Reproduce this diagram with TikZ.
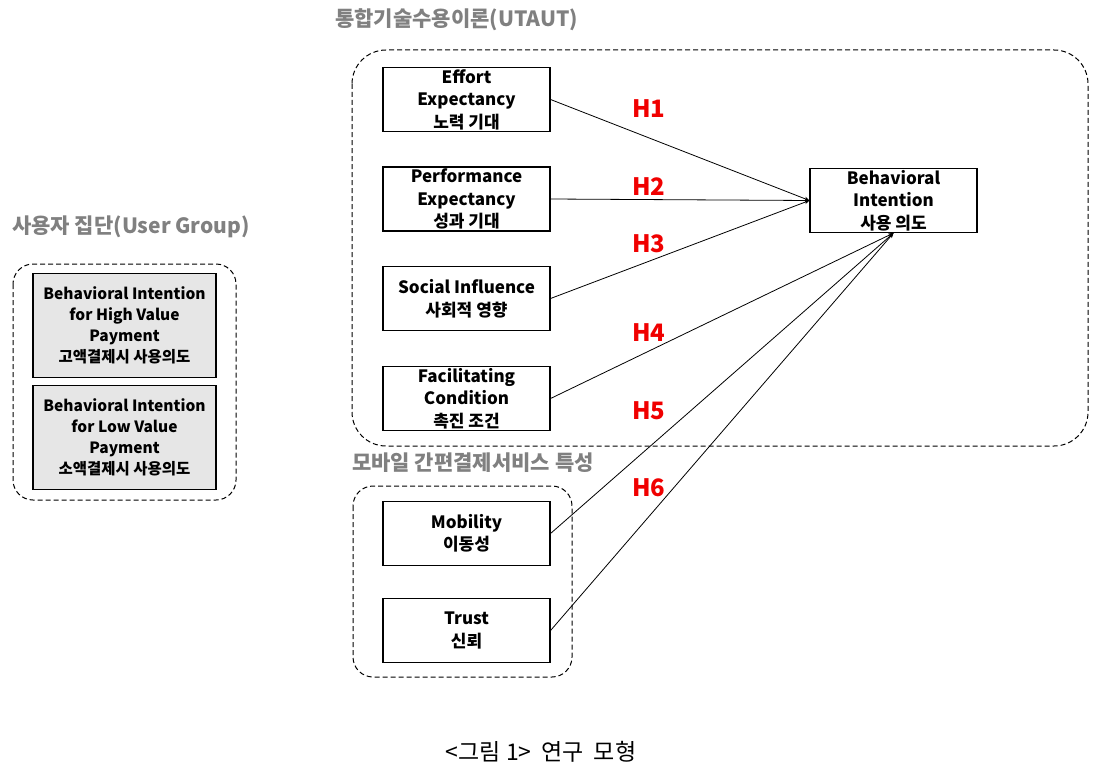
\documentclass[tikz,border=0pt]{standalone}
\usepackage{fontspec}
\setmainfont{Noto Sans CJK KR}
\usetikzlibrary{arrows.meta}
\definecolor{titlegray}{RGB}{128,128,128}
\definecolor{hred}{RGB}{240,0,0}
\definecolor{boxfill}{RGB}{230,230,230}
\begin{document}
\begin{tikzpicture}[x=1pt,y=-1pt,
  box/.style={draw, line width=1.1pt, minimum width=167pt, minimum height=64pt, inner sep=0pt, align=center, font=\fontsize{17}{22.5}\selectfont\bfseries},
  ubox/.style={draw, line width=1.1pt, fill=boxfill, minimum width=183pt, minimum height=104pt, inner sep=0pt, align=center, font=\fontsize{15.5}{21}\selectfont\bfseries},
  group/.style={draw, line width=1pt, dash pattern=on 5pt off 3pt},
  gtitle/.style={text=titlegray, font=\fontsize{21}{24}\selectfont\bfseries, anchor=west, inner sep=0pt},
  hlab/.style={text=hred, font=\fontsize{24}{26}\selectfont\bfseries, inner sep=0pt},
  conn/.style={line width=0.8pt, -{Stealth[length=5pt,width=4pt]}}
]
\useasboundingbox (0,0) rectangle (1107,773);

% group containers
\draw[group, rounded corners=34pt] (352,50) rectangle (1088,446);
\draw[group, rounded corners=20pt] (353,486) rectangle (572,677);
\draw[group, rounded corners=20pt] (13,264) rectangle (236,500);

% group titles
\node[gtitle] (tutaut) at (335,20) {통합기술수용이론(UTAUT)};
\node[gtitle] (tmobile) at (352,463) {모바일 간편결제서비스 특성};
\node[gtitle] (tuser) at (12,227) {사용자 집단(User Group)};

% UTAUT constructs
\node[box] (ee) at (466.5,99.5) {Effort\\Expectancy\\노력 기대};
\node[box] (pe) at (466.5,199) {Performance\\Expectancy\\성과 기대};
\node[box] (si) at (466.5,298.5) {Social Influence\\사회적 영향};
\node[box] (fc) at (466.5,398.5) {Facilitating\\Condition\\촉진 조건};

% mobile payment characteristics
\node[box] (mo) at (466.5,533.5) {Mobility\\이동성};
\node[box] (tr) at (466.5,630.5) {Trust\\신뢰};

% outcome
\node[box] (bi) at (893.5,200.5) {Behavioral\\Intention\\사용 의도};

% user groups
\node[ubox] (hv) at (124.5,325.5) {Behavioral Intention\\for High Value\\Payment\\고액결제시 사용의도};
\node[ubox] (lv) at (124.5,437.5) {Behavioral Intention\\for Low Value\\Payment\\소액결제시 사용의도};

% connectors
\draw[conn] (ee.east) -- (bi.west);
\draw[conn] (pe.east) -- (bi.west);
\draw[conn] (si.east) -- (bi.west);
\draw[conn] (fc.east) -- (bi.south);
\draw[conn] (mo.east) -- (bi.south);
\draw[conn] (tr.east) -- (bi.south);

% hypothesis labels
\node[hlab] (h1) at (649,109) {H1};
\node[hlab] (h2) at (649,187) {H2};
\node[hlab] (h3) at (649,244) {H3};
\node[hlab] (h4) at (649,333) {H4};
\node[hlab] (h5) at (649,411) {H5};
\node[hlab] (h6) at (649,488) {H6};

% caption
\node[font=\fontsize{23}{26}\selectfont, inner sep=0pt] (cap) at (541,752) {<그림 1>\hspace{10pt}연구\hspace{10pt}모형};
\end{tikzpicture}
\end{document}
